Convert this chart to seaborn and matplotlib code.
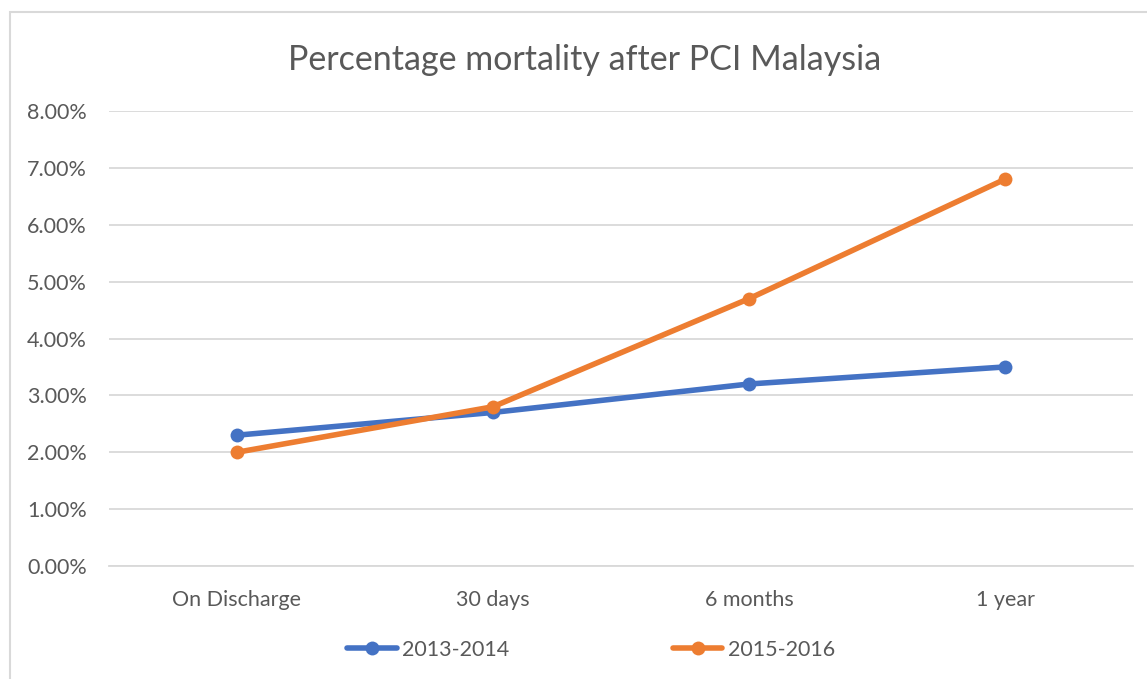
import pandas as pd
import seaborn as sns
import matplotlib.pyplot as plt
from matplotlib.patches import Rectangle
from matplotlib.ticker import PercentFormatter

periods = ["On Discharge", "30 days", "6 months", "1 year"]
rate_2013_2014 = [2.3, 2.7, 3.2, 3.5]
rate_2015_2016 = [2.0, 2.8, 4.7, 6.8]
series_names = ["2013-2014", "2015-2016"]

df = pd.DataFrame({
    "period": periods * 2,
    "pos": list(range(len(periods))) * 2,
    "rate": rate_2013_2014 + rate_2015_2016,
    "series": [series_names[0]] * 4 + [series_names[1]] * 4,
})

sns.set_style("white")
plt.rcParams["font.family"] = ["Lato", "DejaVu Sans"]

W, H = 1147, 679
fig = plt.figure(figsize=(W / 100, H / 100), dpi=100)
ax = fig.add_axes([109 / W, 1 - 566 / H, (1133 - 109) / W, (566 - 111) / H])

palette = {"2013-2014": "#4472c4", "2015-2016": "#ed7d31"}
sns.lineplot(
    data=df, x="pos", y="rate", hue="series", palette=palette,
    marker="o", markersize=10, markeredgewidth=0, linewidth=4,
    ax=ax, legend=False, zorder=3,
)

ax.set_xlim(-0.5, 3.5)
ax.set_ylim(0, 8)
ax.set_yticks(range(0, 9))
ax.yaxis.set_major_formatter(PercentFormatter(decimals=2))
ax.set_xticks(range(len(periods)))
ax.set_xticklabels(periods)
ax.grid(axis="y", color="#d9d9d9", linewidth=1.3)
ax.grid(axis="x", visible=False)
for s in ax.spines.values():
    s.set_visible(False)
ax.spines["bottom"].set_visible(True)
ax.spines["bottom"].set_color("#d9d9d9")
ax.spines["bottom"].set_linewidth(1.3)
ax.tick_params(axis="both", length=0, labelsize=15.5, colors="#595959")
ax.tick_params(axis="y", pad=16)
ax.tick_params(axis="x", pad=17)
ax.set_xlabel("")
ax.set_ylabel("")

fig.text(585 / W, 1 - 60 / H, "Percentage mortality after PCI Malaysia",
         ha="center", va="center", fontsize=24.5, color="#595959")

# legend
handles = [plt.Line2D([], [], color=palette[n], lw=4, marker="o", markersize=10,
                      markeredgewidth=0) for n in series_names]
fig.legend(handles, series_names, loc="center", bbox_to_anchor=(591 / W, 1 - 650 / H),
           ncol=2, frameon=False, fontsize=15.5, labelcolor="#595959",
           handlelength=2.3, columnspacing=7.6, handletextpad=0.25)

fig.patches.append(Rectangle((10 / W, -0.1), 1.2, 1 - 12 / H + 0.1,
                             transform=fig.transFigure, fill=False,
                             edgecolor="#d9d9d9", linewidth=1.5))

fig.savefig("out.png", dpi=100)
